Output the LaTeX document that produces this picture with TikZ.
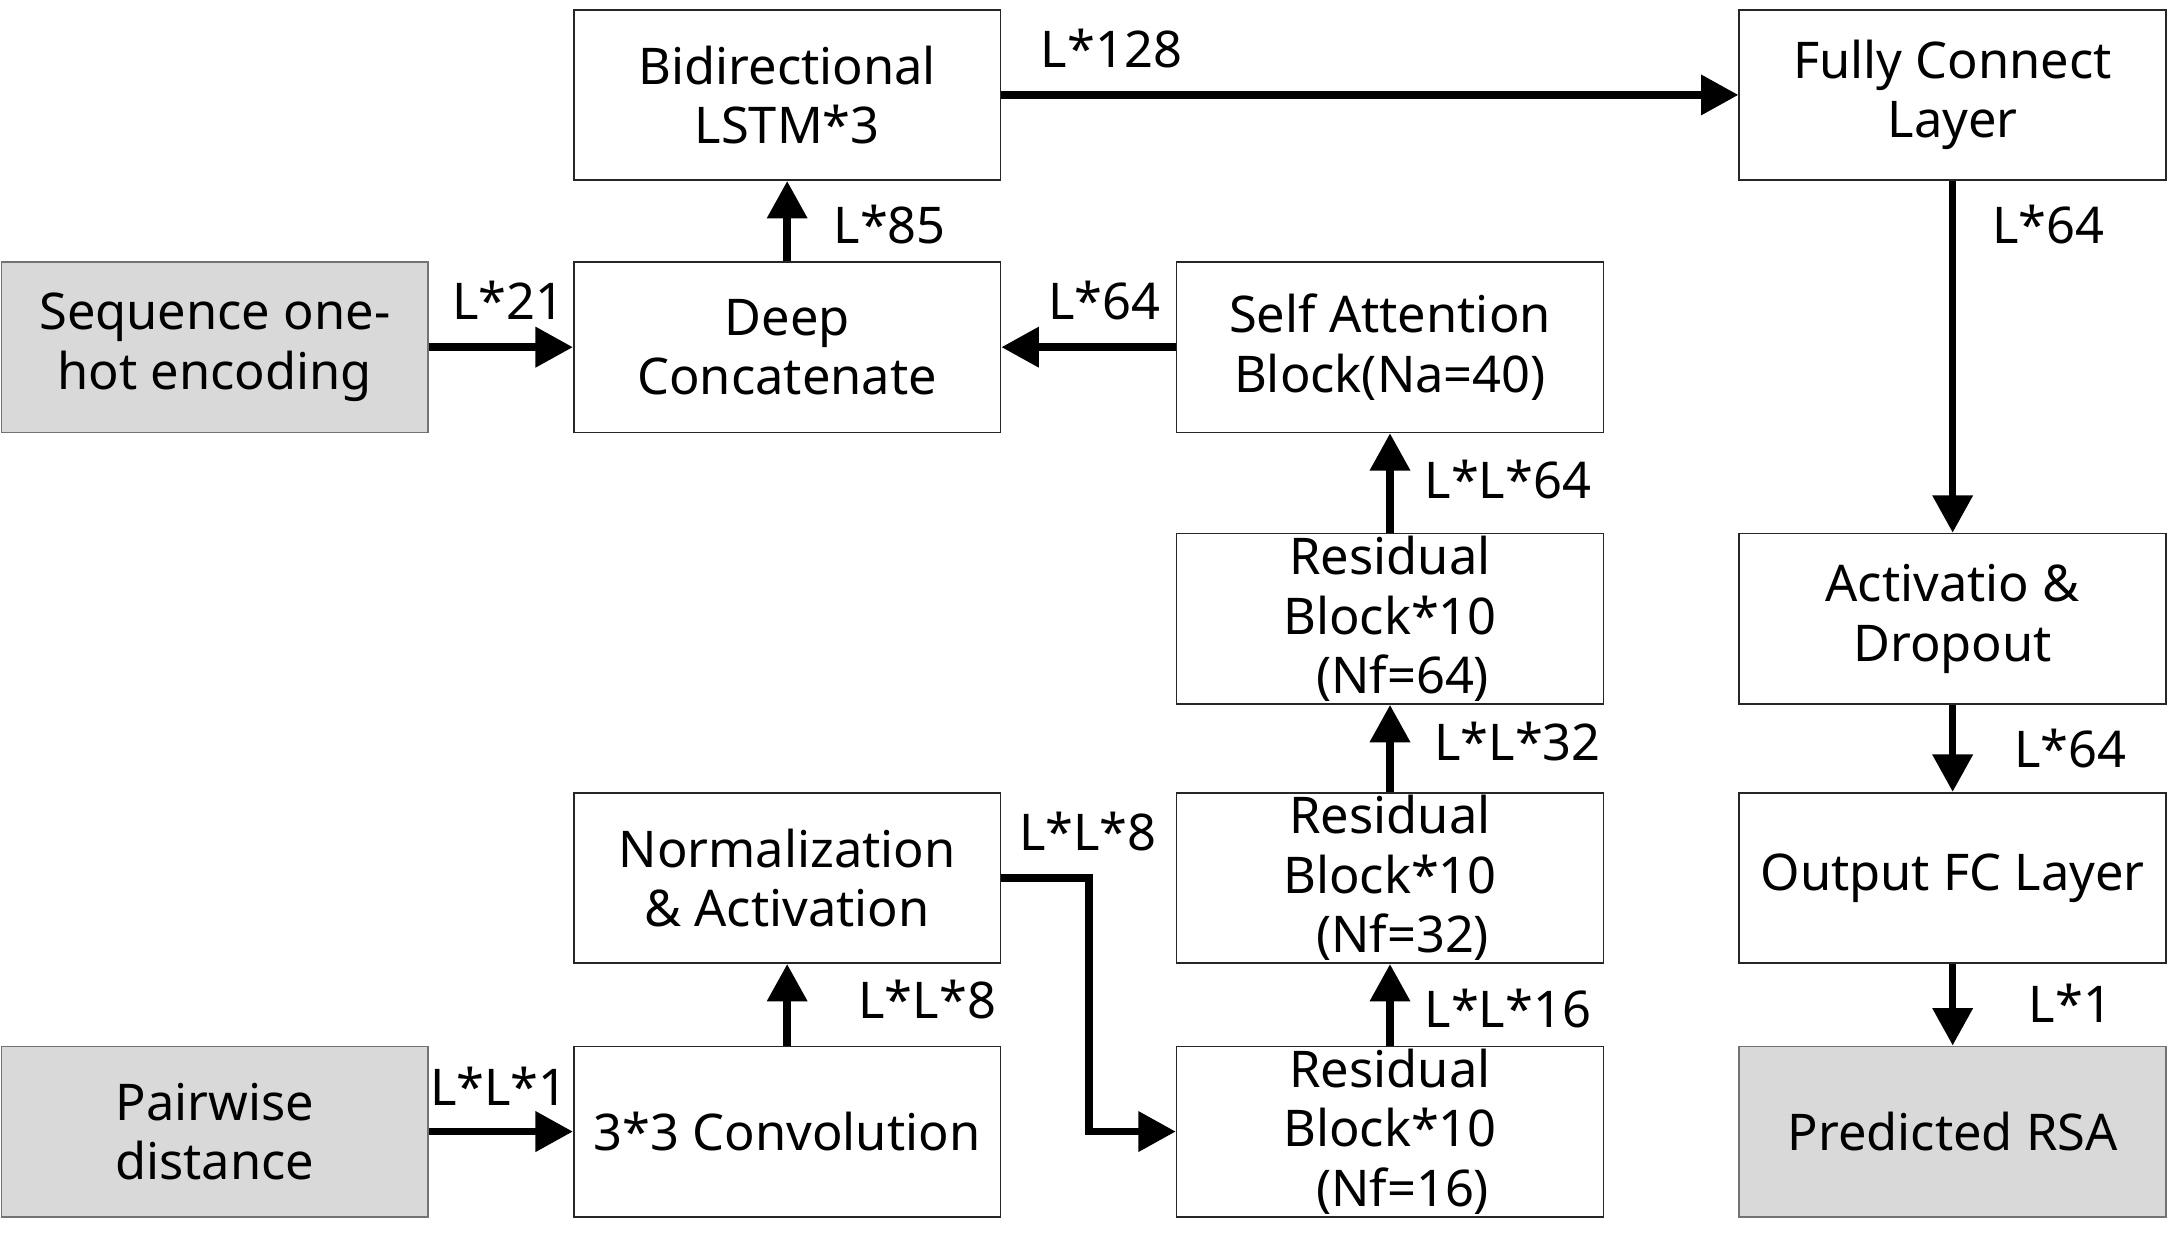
\documentclass[tikz,border=0pt]{standalone}
\usepackage{fontspec}
\setmainfont{Noto Sans}
\usetikzlibrary{arrows.meta}
\definecolor{ingray}{HTML}{D9D9D9}
\begin{document}
\begin{tikzpicture}[x=1pt,y=-1pt,
  box/.style={draw=black!85, line width=1.2pt, minimum width=308pt, minimum height=123pt, align=center, inner sep=0pt, font=\fontsize{36.5}{43}\selectfont},
  inbox/.style={box, fill=ingray, draw=black!55},
  lbl/.style={font=\fontsize{36.5}{43}\selectfont, inner sep=0pt},
  arr/.style={line width=5.5pt, -{Triangle[length=27pt,width=28pt]}}]
\useasboundingbox (0,0) rectangle (1568,898);
% boxes
\node[box]   (lstm) at (568,68.5)  {Bidirectional\\LSTM*3};
\node[box]   (fc)   at (1409,68.5) {Fully Connect\\Layer};
\node[inbox] (seq)  at (155,250.5) {Sequence one-\\hot encoding};
\node[box]   (deep) at (568,250.5) {Deep\\Concatenate};
\node[box]   (att)  at (1003,250.5) {Self Attention\\Block(Na=40)};
\node[box]   (res64) at (1003,446.5) {Residual\\Block*10\\\hspace{0.5em}(Nf=64)};
\node[box]   (act)  at (1409,446.5) {Activatio \&\\Dropout};
\node[box]   (norm) at (568,633.5) {Normalization\\\& Activation};
\node[box]   (res32) at (1003,633.5) {Residual\\Block*10\\\hspace{0.5em}(Nf=32)};
\node[box]   (out)  at (1409,633.5) {Output FC Layer};
\node[inbox] (pair) at (155,816.5) {Pairwise\\distance};
\node[box]   (conv) at (568,816.5) {3*3 Convolution};
\node[box]   (res16) at (1003,816.5) {Residual\\Block*10\\\hspace{0.5em}(Nf=16)};
\node[inbox] (rsa)  at (1409,816.5) {Predicted RSA};
% arrows
\draw[arr] (lstm.east) -- (fc.west);
\draw[arr] (fc.south) -- (act.north);
\draw[arr] (seq.east) -- (deep.west);
\draw[arr] (att.west) -- (deep.east);
\draw[arr] (deep.north) -- (lstm.south);
\draw[arr] (res64.north) -- (att.south);
\draw[arr] (res32.north) -- (res64.south);
\draw[arr] (res16.north) -- (res32.south);
\draw[arr] (norm.east) -- ([xshift=63pt]norm.east) |- (res16.west);
\draw[arr] (conv.north) -- (norm.south);
\draw[arr] (pair.east) -- (conv.west);
\draw[arr] (act.south) -- (out.north);
\draw[arr] (out.south) -- (rsa.north);
% labels
\node[lbl] (l1)  at (802,35)   {L*128};
\node[lbl] (l2)  at (1478,162) {L*64};
\node[lbl] (l3)  at (367,217)  {L*21};
\node[lbl] (l4)  at (797,217)  {L*64};
\node[lbl] (l5)  at (642,162)  {L*85};
\node[lbl] (l6)  at (1088,346) {L*L*64};
\node[lbl] (l7)  at (1095,535) {L*L*32};
\node[lbl] (l8)  at (1088,728) {L*L*16};
\node[lbl] (l9)  at (785,600)  {L*L*8};
\node[lbl] (l10) at (669,721)  {L*L*8};
\node[lbl] (l11) at (360,784)  {L*L*1};
\node[lbl] (l12) at (1494,540) {L*64};
\node[lbl] (l13) at (1494,724) {L*1};
\end{tikzpicture}
\end{document}
